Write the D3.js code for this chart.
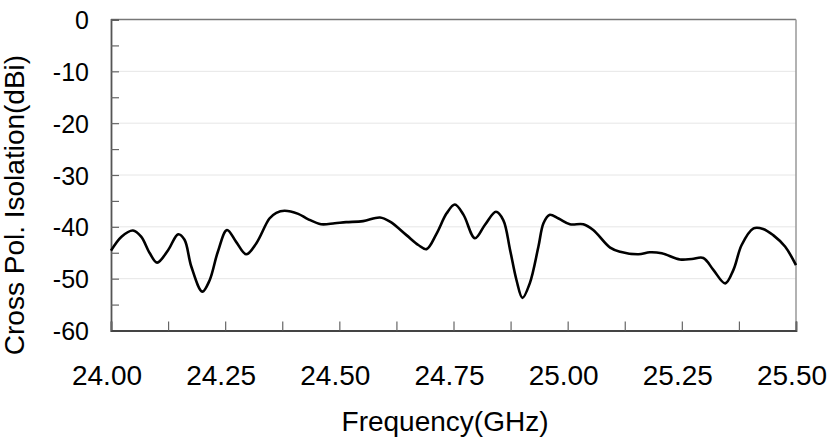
<!DOCTYPE html>
<html><head><meta charset="utf-8">
<script src="https://cdn.jsdelivr.net/npm/d3@7"></script>
<style>body{margin:0;background:#fff}svg{display:block}</style>
</head><body>
<svg id="c" width="832" height="441"></svg>
<script>
const freq = [24.000,24.023,24.048,24.066,24.085,24.101,24.125,24.147,24.161,24.176,24.200,24.216,24.234,24.254,24.274,24.296,24.318,24.347,24.362,24.380,24.410,24.431,24.460,24.490,24.515,24.552,24.589,24.611,24.647,24.673,24.691,24.713,24.735,24.753,24.772,24.797,24.819,24.843,24.859,24.874,24.888,24.901,24.917,24.936,24.947,24.960,24.980,25.005,25.034,25.056,25.093,25.115,25.155,25.180,25.206,25.246,25.272,25.297,25.319,25.345,25.363,25.381,25.407,25.428,25.450,25.476,25.500];
const isolation = [-44.6,-41.9,-40.7,-41.9,-45.1,-46.9,-44.5,-41.45,-42.5,-47.7,-52.5,-50.3,-44.8,-40.6,-42.9,-45.3,-43.2,-38.4,-37.3,-36.9,-37.5,-38.5,-39.5,-39.3,-39.1,-38.9,-38.2,-39.0,-41.6,-43.5,-44.3,-41.3,-37.4,-35.7,-37.7,-42.2,-39.6,-37.1,-38.7,-44.5,-50.3,-53.7,-50.9,-43.8,-39.3,-37.7,-38.4,-39.5,-39.5,-40.6,-44.0,-44.8,-45.3,-44.9,-45.1,-46.3,-46.2,-46.0,-48.3,-50.9,-48.3,-43.5,-40.3,-40.4,-41.6,-43.8,-47.4];
const xTickLabels = ["24.00","24.25","24.50","24.75","25.00","25.25","25.50"];
const yTickLabels = ["0","-10","-20","-30","-40","-50","-60"];

const L=111, R=796, T=19.5, B=330.5;
const svg = d3.select("#c");
const x = d3.scaleLinear().domain([24,25.5]).range([L,R]);
const y = d3.scaleLinear().domain([-60,0]).range([B,T]);
const font = "'Liberation Sans', Arial, sans-serif";

// grid
svg.append("g").selectAll("line").data(d3.range(-50,0,10)).join("line")
  .attr("x1",L).attr("x2",R).attr("y1",d=>y(d)).attr("y2",d=>y(d))
  .attr("stroke","#e6e6e6").attr("stroke-width",1);

// frame top/right
svg.append("line").attr("x1",L).attr("x2",R).attr("y1",T).attr("y2",T).attr("stroke","#777").attr("stroke-width",1.5);
svg.append("line").attr("x1",R).attr("x2",R).attr("y1",T).attr("y2",B).attr("stroke","#999").attr("stroke-width",1.5);

// y axis
const yAxis = d3.axisRight(y).tickValues(d3.range(-60,1,5)).tickSize(8).tickFormat("");
const gy = svg.append("g").attr("transform",`translate(${L},0)`).call(yAxis);
gy.select(".domain").attr("stroke","#555").attr("stroke-width",1.8);
gy.selectAll(".tick line").attr("stroke","#666").attr("stroke-width",1.2);
svg.append("g").selectAll("text").data(yTickLabels).join("text")
  .attr("x",L-22).attr("y",d=>y(+d)+9.5).attr("text-anchor","end")
  .attr("font-family",font).attr("font-size",25).attr("fill","#000").text(d=>d);

// x axis
const xAxis = d3.axisTop(x).tickValues(d3.range(0,13).map(i=>24+i*0.125)).tickSize(9).tickFormat("");
const gx = svg.append("g").attr("transform",`translate(0,${B})`).call(xAxis);
gx.select(".domain").attr("stroke","#444").attr("stroke-width",1.8);
gx.selectAll(".tick line").attr("stroke","#666").attr("stroke-width",1.2);
svg.append("g").selectAll("text").data(xTickLabels).join("text")
  .attr("x",d=>x(+d)-4).attr("y",385).attr("text-anchor","middle")
  .attr("font-family",font).attr("font-size",28).attr("fill","#000").text(d=>d);

// titles
svg.append("text").attr("x",445).attr("y",431).attr("text-anchor","middle")
  .attr("font-family",font).attr("font-size",28).attr("fill","#000").text("Frequency(GHz)");
svg.append("text").attr("transform","translate(24,205) rotate(-90)").attr("text-anchor","middle")
  .attr("font-family",font).attr("font-size",28).attr("fill","#000").text("Cross Pol. Isolation(dBi)");

// line
const line = d3.line().x((d,i)=>x(freq[i])).y(d=>y(d)).curve(d3.curveCatmullRom.alpha(0.5));
svg.append("path").datum(isolation).attr("d",line).attr("fill","none")
  .attr("stroke","#000").attr("stroke-width",2.6).attr("stroke-linejoin","round");
</script>
</body></html>
